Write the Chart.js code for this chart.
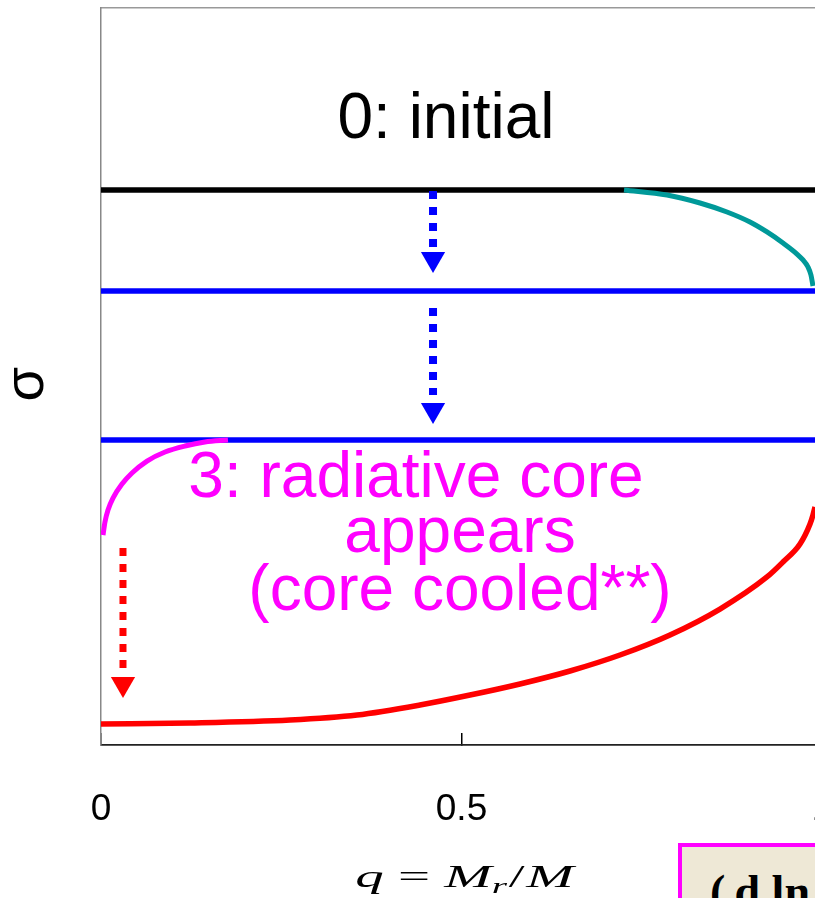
<!DOCTYPE html>
<html>
<head>
<meta charset="utf-8">
<script src="https://cdn.jsdelivr.net/npm/chart.js@4.4.0/dist/chart.umd.min.js"></script>
<style>
  html, body { margin: 0; padding: 0; background: #fff; overflow: hidden; width: 815px; height: 898px; }
  #wrap { position: relative; width: 815px; height: 898px; overflow: hidden; }
  #c { position: absolute; left: 0; top: 0; }
  #box { position: absolute; left: 678px; top: 843px; width: 200px; height: 100px;
         background: #EEE8D6; border: 4px solid #FF00FF; box-sizing: border-box; }
  #box span { position: absolute; left: 28px; top: 22px; font: bold 46px/46px "Liberation Serif", "DejaVu Serif", serif;
              color: #000; white-space: nowrap; }
</style>
</head>
<body>
<div id="wrap">
  <canvas id="c" width="900" height="898"></canvas>
  <div id="box"><span>(&#8201;d ln</span></div>
</div>
<script>
// ---- data (q = M_r/M on x, sigma on y, arbitrary units 0..1) ----
const xTickValues = [0, 0.5, 1];
const xTickLabels = ['0', '0.5', '1'];

const initialQ = [0, 1];
const initialSigma = [0.7531, 0.7531];

const stage1Q = [0, 1];
const stage1Sigma = [0.6160, 0.6160];

const stage2Q = [0, 1];
const stage2Sigma = [0.4138, 0.4138];

const tealQ = [0.7254, 0.7850, 0.8308, 0.8682, 0.9001, 0.9237, 0.9459, 0.9653, 0.9736, 0.9806, 0.9847, 0.9875];
const tealSigma = [0.7531, 0.7463, 0.7354, 0.7232, 0.7096, 0.6961, 0.6811, 0.6662, 0.6581, 0.6486, 0.6377, 0.6228];

const magentaQ = [0.0028, 0.0055, 0.0097, 0.0166, 0.0291, 0.0430, 0.0638, 0.0888, 0.1165, 0.1442, 0.1761];
const magentaSigma = [0.2849, 0.3026, 0.3189, 0.3351, 0.3541, 0.3691, 0.3853, 0.3976, 0.4057, 0.4111, 0.4138];

const redQ = [0, 0.1234, 0.2621, 0.3551, 0.4424, 0.5118, 0.5811, 0.6505, 0.7198, 0.7892, 0.8585, 0.9237, 0.9459, 0.9695, 0.9834, 0.9875, 0.9903];
const redSigma = [0.0285, 0.0299, 0.0339, 0.0407, 0.0543, 0.0678, 0.0828, 0.1004, 0.1221, 0.1493, 0.1845, 0.2280, 0.2483, 0.2727, 0.2999, 0.3121, 0.3229];

const blueArrow1Q = [0.4605, 0.4605];
const blueArrow1Sigma = [0.7517, 0.6757];
const blueArrow2Q = [0.4605, 0.4605];
const blueArrow2Sigma = [0.5929, 0.4749];
const blueHeadQ = [0.4605, 0.4605];
const blueHeadSigma = [0.6594, 0.4545];

const redArrowQ = [0.0305, 0.0305];
const redArrowSigma = [0.2673, 0.1045];
const redHeadQ = [0.0305];
const redHeadSigma = [0.0828];

// ---- annotation texts (placed in data coordinates) ----
const annotations = [
  { text: '0: initial',        q: 0.4785, sigma: 0.8236, color: '#000000' },
  { text: '3: radiative core', q: 0.4369, sigma: 0.3365, color: '#FF00FF' },
  { text: 'appears',           q: 0.4979, sigma: 0.2619, color: '#FF00FF' },
  { text: '(core cooled**)',   q: 0.4979, sigma: 0.1832, color: '#FF00FF' }
];

const zip = (xs, ys) => xs.map((x, i) => ({ x: x, y: ys[i] }));

const lineDs = (label, xs, ys, color, width, extra) => Object.assign({
  label: label, data: zip(xs, ys), borderColor: color, backgroundColor: color,
  borderWidth: width, pointRadius: 0, pointHoverRadius: 0, fill: false, tension: 0,
  borderCapStyle: 'butt'
}, extra || {});

const headDs = (label, xs, ys, color, order) => ({
  label: label, data: zip(xs, ys), showLine: false, pointStyle: 'triangle',
  rotation: 180, pointRadius: 14, pointHoverRadius: 14, pointBorderWidth: 0,
  pointBackgroundColor: color, borderColor: color, backgroundColor: color, order: order
});

const datasets = [
  headDs('blue heads', blueHeadQ, blueHeadSigma, '#0000FF', 0),
  headDs('red head', redHeadQ, redHeadSigma, '#FF0000', 0),
  lineDs('blue arrow 1', blueArrow1Q, blueArrow1Sigma, '#0000FF', 8, { borderDash: [8, 8], order: 1 }),
  lineDs('blue arrow 2', blueArrow2Q, blueArrow2Sigma, '#0000FF', 8, { borderDash: [8, 8], order: 1 }),
  lineDs('red arrow', redArrowQ, redArrowSigma, '#FF0000', 7, { borderDash: [8, 8], order: 1 }),
  lineDs('teal', tealQ, tealSigma, '#009999', 5, { cubicInterpolationMode: 'monotone', order: 2 }),
  lineDs('magenta', magentaQ, magentaSigma, '#FF00FF', 5, { cubicInterpolationMode: 'monotone', order: 2 }),
  lineDs('red', redQ, redSigma, '#FF0000', 5.5, { cubicInterpolationMode: 'monotone', order: 3 }),
  lineDs('stage 2', stage2Q, stage2Sigma, '#0000FF', 5.5, { order: 4 }),
  lineDs('stage 1', stage1Q, stage1Sigma, '#0000FF', 5.5, { order: 4 }),
  lineDs('initial', initialQ, initialSigma, '#000000', 5.5, { order: 5 })
];

const annotationPlugin = {
  id: 'annotationTexts',
  afterDatasetsDraw(chart) {
    const { ctx, scales: { x, y } } = chart;
    ctx.save();
    ctx.textAlign = 'center';
    ctx.textBaseline = 'alphabetic';
    ctx.font = '64px "Liberation Sans", Arial, sans-serif';
    annotations.forEach(a => {
      ctx.fillStyle = a.color;
      ctx.fillText(a.text, x.getPixelForValue(a.q), y.getPixelForValue(a.sigma));
    });
    ctx.restore();
  }
};

// x-axis title q = M_r/M, drawn as math-like text under the axis
const xTitlePlugin = {
  id: 'xTitle',
  afterDraw(chart) {
    const { ctx, scales: { x } } = chart;
    const pieces = [
      { t: 'q', f: 'italic 32px "Liberation Serif", serif', dy: 0, gap: 8 },
      { t: '=', f: '32px "Liberation Serif", serif', dy: 0, gap: 8 },
      { t: 'M', f: 'italic 32px "Liberation Serif", serif', dy: 0, gap: 0 },
      { t: 'r', f: 'italic 22px "Liberation Serif", serif', dy: 6, gap: 1 },
      { t: '/', f: '32px "Liberation Serif", serif', dy: 0, gap: 1 },
      { t: 'M', f: 'italic 32px "Liberation Serif", serif', dy: 0, gap: 0 }
    ];
    const sx = 1.78;
    ctx.save();
    let total = 0;
    pieces.forEach(p => { ctx.font = p.f; p.w = ctx.measureText(p.t).width; total += p.w + p.gap; });
    const cx = (x.left + x.right) / 2 + 3;
    const baseY = 887;
    ctx.translate(cx, baseY);
    ctx.scale(sx, 1);
    let px = -total / 2;
    ctx.fillStyle = '#000';
    ctx.textBaseline = 'alphabetic';
    ctx.textAlign = 'left';
    pieces.forEach(p => { ctx.font = p.f; ctx.fillText(p.t, px, p.dy); px += p.w + p.gap; });
    ctx.restore();
  }
};

new Chart(document.getElementById('c'), {
  type: 'line',
  data: { datasets: datasets },
  plugins: [annotationPlugin, xTitlePlugin],
  options: {
    responsive: false,
    animation: false,
    events: [],
    layout: { autoPadding: false, padding: { left: 0, right: 78, top: 8, bottom: 0 } },
    plugins: { legend: { display: false }, tooltip: { enabled: false }, title: { display: false } },
    scales: {
      x: {
        type: 'linear', position: 'bottom', min: 0, max: 1,
        afterBuildTicks: s => { s.ticks = xTickValues.map(v => ({ value: v })); },
        afterFit: s => { s.height = 153; },
        grid: { display: true, drawOnChartArea: false, drawTicks: true, tickLength: -12, color: '#000', lineWidth: 1.5 },
        border: { display: true, color: '#222', width: 1.8 },
        ticks: {
          autoSkip: false, maxRotation: 0, minRotation: 0, padding: 55, color: '#000',
          font: { family: '"Liberation Sans", Arial, sans-serif', size: 37 },
          callback: (v, i) => xTickLabels[i]
        }
      },
      xTop: {
        type: 'linear', position: 'top', min: 0, max: 1,
        afterFit: s => { s.height = 0; },
        grid: { display: false, drawTicks: false },
        ticks: { display: false },
        border: { display: true, color: '#999', width: 1.5 }
      },
      y: {
        type: 'linear', position: 'left', min: 0, max: 1,
        afterFit: s => { s.width = 101; },
        grid: { display: false, drawTicks: false },
        ticks: { display: false },
        border: { display: true, color: '#888', width: 1.5 },
        title: {
          display: true, text: 'σ ', color: '#000',
          font: { family: '"Liberation Sans", Arial, sans-serif', size: 56, lineHeight: 1 },
          padding: { top: 0, bottom: 0 }
        }
      }
    }
  }
});
</script>
</body>
</html>
